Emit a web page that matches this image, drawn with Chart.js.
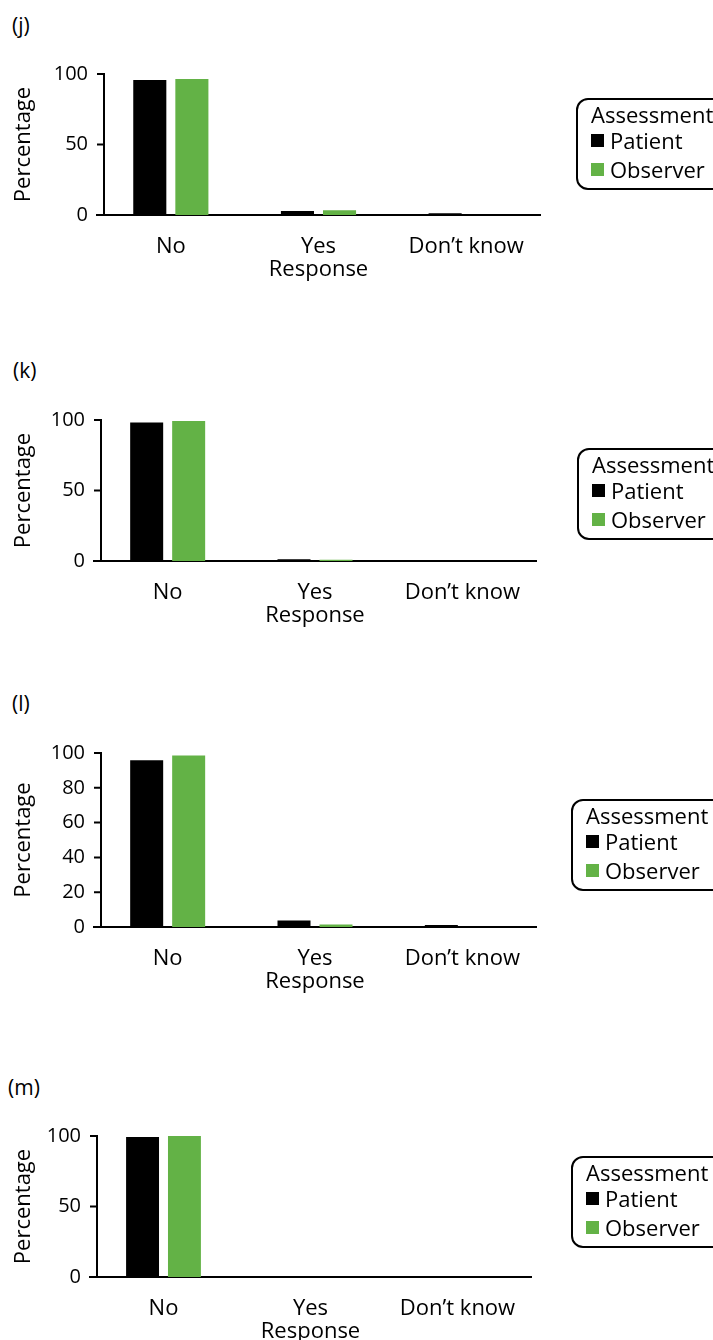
<!DOCTYPE html>
<html>
<head>
<meta charset="utf-8">
<script src="https://cdn.jsdelivr.net/npm/chart.js@4.4.1/dist/chart.umd.min.js"></script>
<style>
  html, body { margin: 0; padding: 0; background: #fff; overflow: hidden; }
  #page { position: relative; width: 713px; height: 1340px; overflow: hidden;
          font-family: 'Open Sans', 'Noto Sans', sans-serif; color: #000; }
  .panel-label { position: absolute; font-size: 21px; line-height: 24px; }
  .chart-box { position: absolute; left: 0; width: 713px; }
  .legend { position: absolute; width: 160px; height: 88px; border: 2px solid #000;
            border-radius: 12px; font-size: 22px; line-height: 24px; }
  .legend div { position: absolute; white-space: nowrap; }
  .legend .sw { width: 13px; height: 13px; }
</style>
</head>
<body>
<div id="page"></div>
<script>
/********************** DATA ************************/
const categories = ['No', 'Yes', 'Don\u2019t know'];
const seriesNames = ['Patient', 'Observer'];
const seriesColors = ['#000000', '#63b246'];
const xTitle = 'Response';
const yTitle = 'Percentage';
const legendTitle = 'Assessment';

const panelLabels = ['(j)', '(k)', '(l)', '(m)'];

const patientJ = [95.8, 2.8, 1.2];
const observerJ = [96.5, 3.3, 0];
const patientK = [98.3, 1.2, 0];
const observerK = [99.3, 0.8, 0];
const patientL = [95.9, 3.8, 1.1];
const observerL = [98.5, 1.5, 0];
const patientM = [99.3, 0, 0.4];
const observerM = [100, 0, 0];

const yTicksJ = [0, 50, 100];
const yTicksK = [0, 50, 100];
const yTicksL = [0, 20, 40, 60, 80, 100];
const yTicksM = [0, 50, 100];

/********************** LAYOUT **********************/
// plot box per panel: left/right of x axis, top (=100) and bottom (=0)
const panels = [
  { label: panelLabels[0], labelX: 12, labelY: 25,   left: 97, right: 540, top: 73,   bottom: 215,  legendX: 576, legendY: 98,   data: [patientJ, observerJ], ticks: yTicksJ },
  { label: panelLabels[1], labelX: 13, labelY: 370,  left: 94, right: 536, top: 419,  bottom: 561,  legendX: 577, legendY: 448,  data: [patientK, observerK], ticks: yTicksK },
  { label: panelLabels[2], labelX: 12, labelY: 703,  left: 94, right: 536, top: 752,  bottom: 927,  legendX: 571, legendY: 799,  data: [patientL, observerL], ticks: yTicksL },
  { label: panelLabels[3], labelX: 8,  labelY: 1087, left: 90, right: 531, top: 1135, bottom: 1277, legendX: 571, legendY: 1156, data: [patientM, observerM], ticks: yTicksM }
];

const PAD_TOP = 20;
const X_AXIS_H = 68;
const Y_TICK_LEN = 7;
const FAMILY = "'Open Sans', 'Noto Sans', sans-serif";
const NUM_FONT = { family: FAMILY, size: 20 };
const TEXT_FONT = { family: FAMILY, size: 22 };

Chart.defaults.color = '#000';
Chart.defaults.font = NUM_FONT;

/******************** Y AXIS PLUGIN *****************/
// y axis line sits a tick length to the right of the x axis start
const yAxisPlugin = {
  id: 'yAxisLine',
  afterDraw(chart) {
    const { ctx, chartArea, scales: { y } } = chart;
    const ax = chartArea.left + Y_TICK_LEN;
    ctx.save();
    ctx.strokeStyle = '#000';
    ctx.lineWidth = 2;
    ctx.beginPath();
    ctx.moveTo(ax, y.getPixelForValue(y.max) - 1);
    ctx.lineTo(ax, chartArea.bottom);
    y.ticks.forEach(t => {
      const py = y.getPixelForValue(t.value);
      ctx.moveTo(chartArea.left, py);
      ctx.lineTo(ax, py);
    });
    ctx.stroke();
    ctx.restore();
  }
};

/************************ BUILD *********************/
const page = document.getElementById('page');
panels.forEach(buildPanel);

function buildPanel(p) {
  const lab = document.createElement('div');
  lab.className = 'panel-label';
  lab.style.left = p.labelX + 'px';
  lab.style.top = (p.labelY - 12) + 'px';
  lab.textContent = p.label;
  page.appendChild(lab);

  const plotH = p.bottom - p.top;
  const box = document.createElement('div');
  box.className = 'chart-box';
  box.style.top = (p.top - PAD_TOP) + 'px';
  box.style.height = (PAD_TOP + plotH + X_AXIS_H) + 'px';
  const canvas = document.createElement('canvas');
  canvas.width = 713;
  canvas.height = PAD_TOP + plotH + X_AXIS_H;
  box.appendChild(canvas);
  page.appendChild(box);

  new Chart(canvas, {
    type: 'bar',
    data: {
      labels: categories,
      datasets: seriesNames.map((name, i) => ({
        label: name,
        data: p.data[i],
        backgroundColor: seriesColors[i],
        borderWidth: 0,
        categoryPercentage: 0.57,
        barPercentage: 0.786
      }))
    },
    options: {
      responsive: false,
      animation: false,
      devicePixelRatio: 1,
      layout: { padding: { top: PAD_TOP, left: 0, right: 713 - p.right, bottom: 0 } },
      plugins: { legend: { display: false }, tooltip: { enabled: false } },
      scales: {
        x: {
          grid: { display: false, drawTicks: false },
          border: { display: true, color: '#000', width: 2 },
          ticks: { padding: 19, font: TEXT_FONT, maxRotation: 0 },
          title: { display: true, text: xTitle, font: TEXT_FONT, padding: { top: 0, bottom: 0 } },
          afterFit: s => { s.height = X_AXIS_H; }
        },
        y: {
          min: 0,
          max: 100,
          grid: { display: false, drawTicks: false },
          border: { display: false },
          ticks: { padding: 9, font: NUM_FONT },
          afterBuildTicks: s => { s.ticks = p.ticks.map(v => ({ value: v })); },
          title: { display: true, text: yTitle, font: TEXT_FONT, padding: { top: 11, bottom: 0 } },
          afterFit: s => { s.width = p.left; }
        }
      }
    },
    plugins: [yAxisPlugin]
  });

  buildLegend(p.legendX, p.legendY);
}

/*********************** LEGEND *********************/
function buildLegend(x, y) {
  const lg = document.createElement('div');
  lg.className = 'legend';
  lg.style.left = x + 'px';
  lg.style.top = y + 'px';

  let html = `<div style="left:13px;top:2px">${legendTitle}</div>`;
  const rowCenters = [40, 69];
  seriesNames.forEach((name, i) => {
    const c = rowCenters[i];
    html += `<div class="sw" style="left:13px;top:${c - 6.5}px;background:${seriesColors[i]}"></div>`;
    html += `<div style="left:32px;top:${c - 12}px">${name}</div>`;
  });
  lg.innerHTML = html;
  page.appendChild(lg);
}
</script>
</body>
</html>
